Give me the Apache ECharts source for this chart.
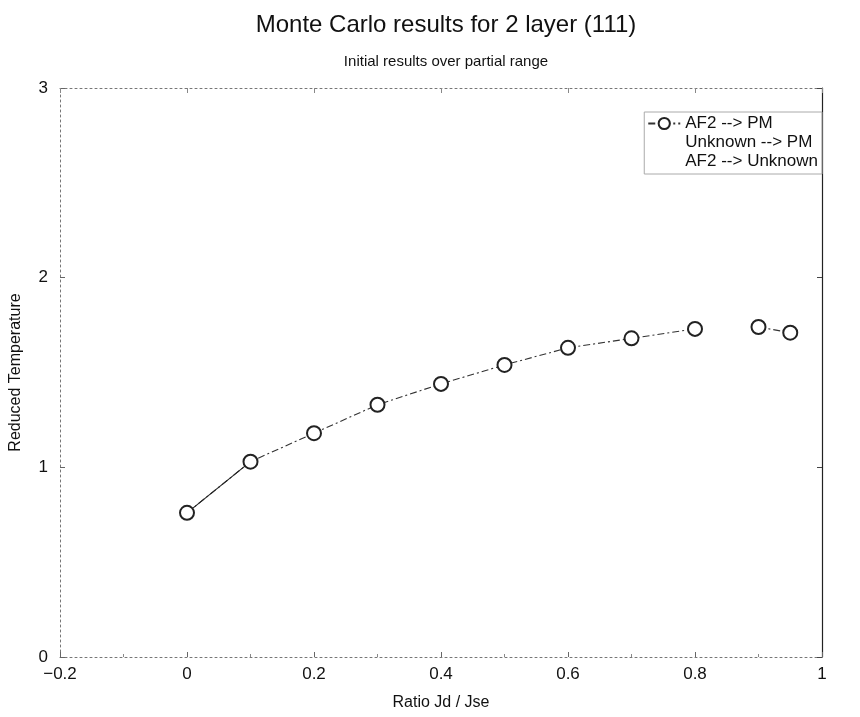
<!DOCTYPE html>
<html>
<head>
<meta charset="utf-8">
<script src="https://cdn.jsdelivr.net/npm/echarts@6/dist/echarts.min.js"></script>
<style>
  html, body { margin: 0; padding: 0; background: #fff; }
  #chart { width: 860px; height: 717px; }
</style>
</head>
<body>
<div id="chart"></div>
<script>
// ratio Jd / Jse
const ratios = [0, 0.1, 0.2, 0.3, 0.4, 0.5, 0.6, 0.7, 0.8, 0.9, 0.95];
// reduced temperature, AF2 --> PM
const af2ToPm = [0.76, 1.03, 1.18, 1.33, 1.44, 1.54, 1.63, 1.68, 1.73, 1.74, 1.71];
// first two points drawn with a solid line
const solidRatios = [0, 0.1];
const solidTemps = [0.76, 1.03];
// the curve is not joined between these two ratios
const gapAfter = 0.8;

const xTicks = { min: -0.2, max: 1, interval: 0.2 };
const yTicks = { min: 0, max: 3, interval: 1 };

const font = "Liberation Sans, Arial, sans-serif";

// points for the dash-dot series, with a break after gapAfter
const dashedData = [];
ratios.forEach((x, i) => {
  dashedData.push([x, af2ToPm[i]]);
  if (x === gapAfter) dashedData.push([x, "-"]);
});

const chart = echarts.init(document.getElementById("chart"));

const frameLine = { show: true, onZero: false, lineStyle: { color: "#777", width: 1, type: [2, 3] } };
const hiddenIcon = { color: "rgba(0,0,0,0)", borderColor: "rgba(0,0,0,0)" };

chart.setOption({
  animation: false,
  title: [
    {
      text: "Monte Carlo results for 2 layer (111)",
      left: 441, top: 8, textAlign: "center",
      textStyle: { fontFamily: font, fontSize: 24, fontWeight: "normal", color: "#111" },
    },
    {
      text: "Initial results over partial range",
      left: 441, top: 49, textAlign: "center",
      textStyle: { fontFamily: font, fontSize: 15, fontWeight: "normal", color: "#111" },
    },
  ],
  legend: {
    right: 38, top: 112,
    orient: "vertical",
    itemGap: 2,
    itemWidth: 32, itemHeight: 14,
    padding: [3, 4, 4, 3],
    borderColor: "#aaa", borderWidth: 1,
    textStyle: { fontFamily: font, fontSize: 17, color: "#111" },
    data: [
      { name: "AF2 --> PM" },
      { name: "Unknown --> PM", icon: "rect", itemStyle: hiddenIcon, lineStyle: { opacity: 0 } },
      { name: "AF2 --> Unknown", icon: "rect", itemStyle: hiddenIcon, lineStyle: { opacity: 0 } },
    ],
  },
  grid: { left: 60, right: 38, top: 88, bottom: 60, outerBoundsMode: "none", containLabel: false },
  xAxis: [
    {
      type: "value", ...xTicks,
      name: "Ratio Jd / Jse", nameLocation: "middle", nameGap: 38,
      nameTextStyle: { fontFamily: font, fontSize: 16, color: "#111" },
      axisLine: frameLine,
      axisTick: { show: true, inside: true, length: 5, lineStyle: { color: "#666" } },
      minorTick: { show: true, splitNumber: 2, length: 3, lineStyle: { color: "#888" } },
      axisLabel: {
        fontFamily: font, fontSize: 17, color: "#111", margin: 9,
        formatter: (v) => (v === -0.2 ? "\u22120.2" : String(Math.round(v * 10) / 10)),
      },
      splitLine: { show: false },
    },
    {
      type: "value", ...xTicks, position: "top",
      axisLine: frameLine,
      axisTick: { show: true, inside: true, length: 5, lineStyle: { color: "#888" } },
      axisLabel: { show: false },
      splitLine: { show: false },
    },
  ],
  yAxis: [
    {
      type: "value", ...yTicks,
      name: "Reduced Temperature", nameLocation: "middle", nameGap: 36,
      nameTextStyle: { fontFamily: font, fontSize: 16, color: "#111" },
      axisLine: frameLine,
      axisTick: { show: true, inside: true, length: 5, lineStyle: { color: "#666" } },
      axisLabel: { fontFamily: font, fontSize: 17, color: "#111", margin: 12 },
      splitLine: { show: false },
    },
    {
      type: "value", ...yTicks, position: "right",
      axisLine: { show: true, onZero: false, lineStyle: { color: "#222", width: 1.2 } },
      axisTick: { show: true, inside: true, length: 5, lineStyle: { color: "#444" } },
      axisLabel: { show: false },
      splitLine: { show: false },
    },
  ],
  series: [
    {
      name: "AF2 --> PM",
      type: "line",
      data: dashedData,
      connectNulls: false,
      symbol: "emptyCircle",
      symbolSize: 14,
      itemStyle: { color: "#222", borderColor: "#222", borderWidth: 1 },
      lineStyle: { color: "#333", width: 1.1, type: [7, 3, 2, 3] },
    },
    {
      name: "Unknown --> PM",
      type: "line",
      data: solidRatios.map((x, i) => [x, solidTemps[i]]),
      symbol: "none",
      itemStyle: { color: "#222" },
      lineStyle: { color: "#222", width: 1.1 },
    },
    {
      name: "AF2 --> Unknown",
      type: "line",
      data: [],
      symbol: "none",
      itemStyle: { color: "#222" },
    },
  ],
});
</script>
</body>
</html>
